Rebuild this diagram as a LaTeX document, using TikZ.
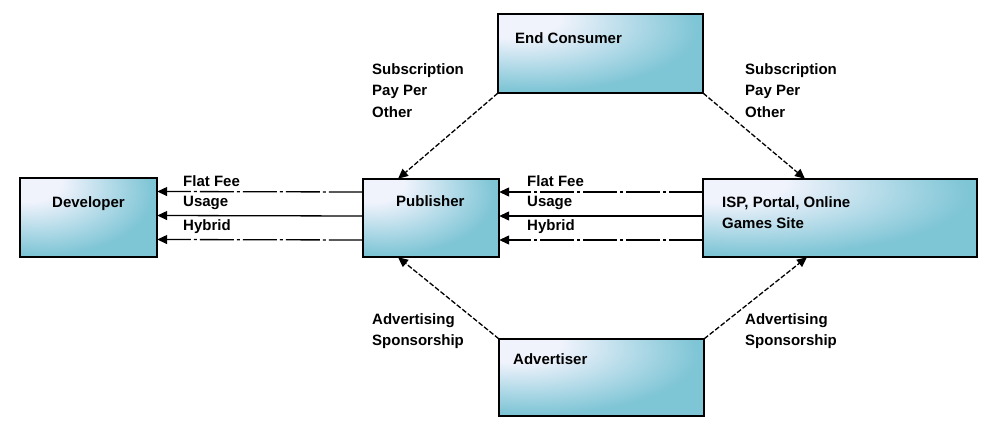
\documentclass[tikz,border=0pt]{standalone}
\usepackage{fontspec}
\setmainfont{Liberation Sans}
\usetikzlibrary{arrows.meta}

\definecolor{shadelight}{RGB}{240,243,252}
\definecolor{shademid}{RGB}{176,217,231}
\definecolor{shadedark}{RGB}{126,197,213}
% radial fill whose bright centre sits at the top-left corner of the box
\pgfdeclareradialshading{boxshade}{\pgfpoint{-25bp}{25bp}}{%
  color(0bp)=(shadelight); color(12bp)=(shadelight);
  color(27bp)=(shademid); color(39bp)=(shadedark);
  color(100bp)=(shadedark)}

\tikzset{
  party/.style={draw=black, line width=1.6pt, shading=boxshade, inner sep=0pt},
  anchorbox/.style={inner sep=0pt},
  boxtext/.style={font=\bfseries\fontsize{15}{21}\selectfont, inner sep=0pt,
    anchor=north west, align=left},
  flowlbl/.style={font=\bfseries\fontsize{15}{21}\selectfont, inner sep=0pt,
    anchor=south west},
  sidelbl/.style={font=\bfseries\fontsize{15}{21.5}\selectfont, inner sep=0pt,
    anchor=north west, align=left},
  tip/.style={-{Triangle[length=10pt,width=9pt]}},
  dashdot/.style={tip, line width=1.3pt,
    dash pattern=on 34pt off 3pt on 3pt off 3pt},
  plainflow/.style={tip, line width=1.3pt},
  diag/.style={tip, line width=1.3pt, dash pattern=on 5pt off 2pt}
}

\begin{document}
\begin{tikzpicture}[x=1pt, y=-1pt]
  \useasboundingbox (0,0) rectangle (986,428);

  % parties: shaded boxes plus named nodes over them
  \path[party] (20,178) rectangle (157,257);
  \node[anchorbox, minimum width=137pt, minimum height=79pt] (dev) at (88.5,217.5) {};
  \path[party] (363,179) rectangle (499,257);
  \node[anchorbox, minimum width=136pt, minimum height=78pt] (pub) at (431,218) {};
  \path[party] (703,179) rectangle (977,257);
  \node[anchorbox, minimum width=274pt, minimum height=78pt] (isp) at (840,218) {};
  \path[party] (498,14) rectangle (703,93);
  \node[anchorbox, minimum width=205pt, minimum height=79pt] (cons) at (600.5,53.5) {};
  \path[party] (499,339) rectangle (704,416);
  \node[anchorbox, minimum width=205pt, minimum height=77pt] (adv) at (601.5,377.5) {};

  % names inside the boxes
  \node[boxtext] (devname) at (52,196) {Developer};
  \node[boxtext] (pubname) at (396,195) {Publisher};
  \node[boxtext] (ispname) at (722,196) {ISP, Portal, Online\\Games Site};
  \node[boxtext] (consname) at (515,32) {End Consumer};
  \node[boxtext] (advname) at (513,353) {Advertiser};

  % payments from the publisher to the developer
  \draw[dashdot]   ([yshift=26pt]pub.west)  -- ([yshift=26pt]dev.east);
  \draw[plainflow] ([yshift=2pt]pub.west)   -- ([yshift=2pt]dev.east);
  \draw[dashdot]   ([yshift=-22pt]pub.west) -- ([yshift=-22pt]dev.east);
  \node[flowlbl] (devfee) at (183,187) {Flat Fee};
  \node[flowlbl] (devuse) at (183,210) {Usage};
  \node[flowlbl] (devhyb) at (183,234) {Hybrid};

  % payments from the portal to the publisher
  \draw[dashdot]   ([yshift=26pt]isp.west)  -- ([yshift=26pt]pub.east);
  \draw[plainflow] ([yshift=2pt]isp.west)   -- ([yshift=2pt]pub.east);
  \draw[dashdot]   ([yshift=-22pt]isp.west) -- ([yshift=-22pt]pub.east);
  \node[flowlbl] (pubfee) at (527,187) {Flat Fee};
  \node[flowlbl] (pubuse) at (527,210) {Usage};
  \node[flowlbl] (pubhyb) at (527,234) {Hybrid};

  % consumer and advertiser revenue
  \draw[diag] (cons.south west) -- ([xshift=-33pt]pub.north);
  \draw[diag] (cons.south east) -- ([xshift=-35pt]isp.north);
  \draw[diag] (adv.north west) -- ([xshift=-33pt]pub.south);
  \draw[diag] (adv.north east) -- ([xshift=-33pt]isp.south);

  \node[sidelbl] (subl) at (372,63) {Subscription\\Pay Per\\Other};
  \node[sidelbl] (subr) at (745,63) {Subscription\\Pay Per\\Other};
  \node[sidelbl] (advl) at (372,313) {Advertising\\Sponsorship};
  \node[sidelbl] (advr) at (745,313) {Advertising\\Sponsorship};
\end{tikzpicture}
\end{document}
